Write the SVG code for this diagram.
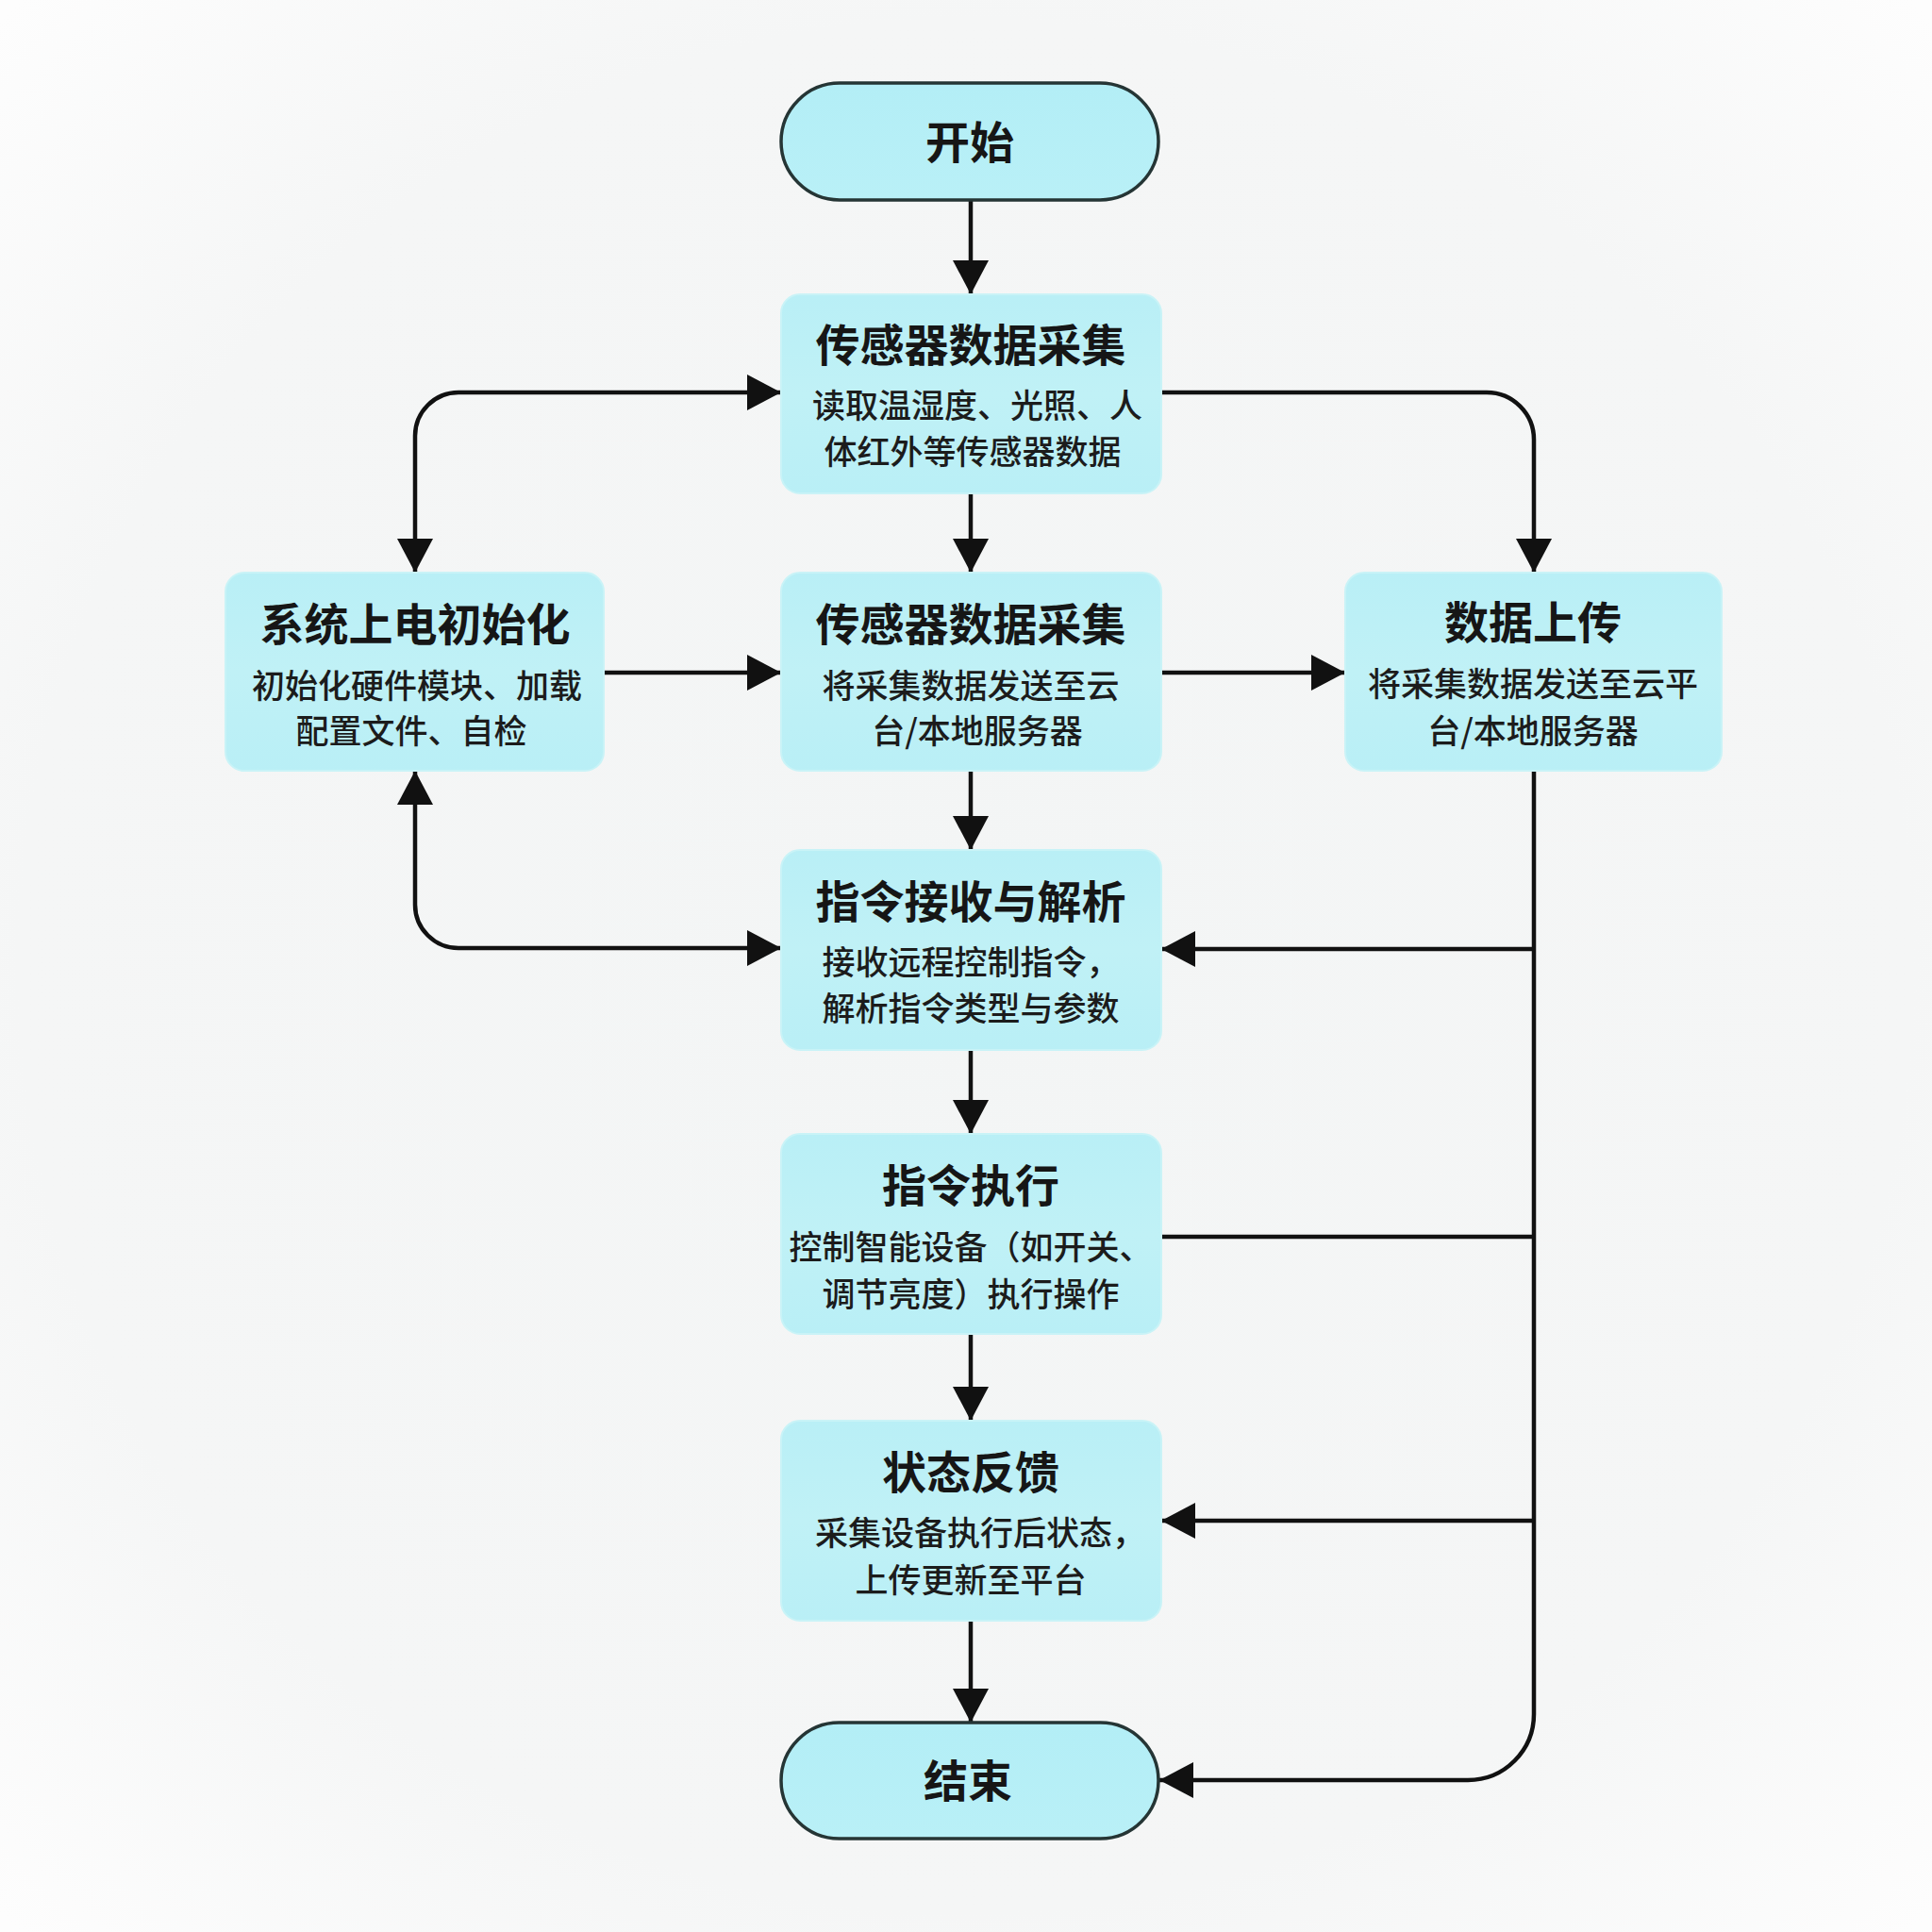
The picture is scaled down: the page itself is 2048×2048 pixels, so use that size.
<svg xmlns="http://www.w3.org/2000/svg" width="2048" height="2048" viewBox="0 0 2048 2048">
<defs>
<radialGradient id="bg" cx="50%" cy="50%" r="70%">
<stop offset="0" stop-color="#f3f5f5"/>
<stop offset="0.7" stop-color="#f5f6f6"/>
<stop offset="1" stop-color="#fdfdfd"/>
</radialGradient>
<linearGradient id="boxfill" x1="0" y1="0" x2="0" y2="1">
<stop offset="0" stop-color="#b9eff6"/>
<stop offset="0.5" stop-color="#c0f1f6"/>
<stop offset="1" stop-color="#b9eff6"/>
</linearGradient>
<linearGradient id="pillfill" x1="0" y1="0" x2="0" y2="1">
<stop offset="0" stop-color="#b3eef6"/>
<stop offset="1" stop-color="#b9f0f7"/>
</linearGradient>
<marker id="arr" markerUnits="userSpaceOnUse" markerWidth="38" markerHeight="40" refX="36" refY="19" orient="auto-start-reverse" viewBox="0 0 38 40">
<path d="M0,0 L36,19 L0,38 z" fill="#111"/>
</marker>
<style>
.box{fill:url(#boxfill);stroke:#c9f3f7;stroke-width:2}
.pill{fill:url(#pillfill);stroke:#253535;stroke-width:3.5}
.title{font-family:"Noto Sans CJK SC","Noto Sans",sans-serif;font-weight:700;font-size:47px;fill:#161616;text-anchor:middle}
.sub{font-family:"Noto Sans CJK SC","Noto Sans",sans-serif;font-weight:500;font-size:35px;fill:#1c1c1c;text-anchor:middle}
.line{fill:none;stroke:#111;stroke-width:4.5}
.a{marker-end:url(#arr)}
.ab{marker-start:url(#arr);marker-end:url(#arr)}
</style>
</defs>
<rect width="2048" height="2048" fill="url(#bg)"/>

<g id="connectors">
<path class="line a" d="M1029,212 V312"/>
<path class="line a" d="M1029,523 V607"/>
<path class="line a" d="M1029,817 V901"/>
<path class="line a" d="M1029,1113 V1202"/>
<path class="line a" d="M1029,1414 V1506"/>
<path class="line a" d="M1029,1718 V1826"/>
<path class="line ab" d="M440,607 V462 A46,46 0 0 1 486,416 H828"/>
<path class="line ab" d="M440,817 V959 A46,46 0 0 0 486,1005 H828"/>
<path class="line a" d="M640,713 H828"/>
<path class="line a" d="M1231,713 H1426"/>
<path class="line a" d="M1231,416 H1576 A50,50 0 0 1 1626,466 V607"/>
<path class="line a" d="M1626,816 V1817 A70,70 0 0 1 1556,1887 H1229"/>
<path class="line a" d="M1626,1006 H1231"/>
<path class="line" d="M1626,1311 H1231"/>
<path class="line a" d="M1626,1612 H1231"/>
</g>

<g id="start">
<rect class="pill" x="828" y="88" width="400" height="124" rx="62"/>
<text class="title" x="1028" y="168">开始</text>
</g>

<g id="collect1">
<rect class="box" x="828" y="312" width="403" height="211" rx="20"/>
<text class="title" x="1029" y="383">传感器数据采集</text>
<text class="sub" x="1036" y="443">读取温湿度、光照、人</text>
<text class="sub" x="1031" y="492">体红外等传感器数据</text>
</g>

<g id="init">
<rect class="box" x="239" y="607" width="401" height="210" rx="20"/>
<text class="title" x="440" y="679">系统上电初始化</text>
<text class="sub" x="442" y="740">初始化硬件模块、加载</text>
<text class="sub" x="436" y="788">配置文件、自检</text>
</g>

<g id="collect2">
<rect class="box" x="828" y="607" width="403" height="210" rx="20"/>
<text class="title" x="1029" y="679">传感器数据采集</text>
<text class="sub" x="1029" y="740">将采集数据发送至云</text>
<text class="sub" x="1036" y="788">台/本地服务器</text>
</g>

<g id="upload">
<rect class="box" x="1426" y="607" width="399" height="210" rx="20"/>
<text class="title" x="1625" y="677">数据上传</text>
<text class="sub" x="1625" y="738">将采集数据发送至云平</text>
<text class="sub" x="1625" y="788">台/本地服务器</text>
</g>

<g id="parse">
<rect class="box" x="828" y="901" width="403" height="212" rx="20"/>
<text class="title" x="1029" y="973">指令接收与解析</text>
<text class="sub" x="1029" y="1033">接收远程控制指令，</text>
<text class="sub" x="1029" y="1082">解析指令类型与参数</text>
</g>

<g id="execute">
<rect class="box" x="828" y="1202" width="403" height="212" rx="20"/>
<text class="title" x="1029" y="1274">指令执行</text>
<text class="sub" x="1029" y="1335">控制智能设备（如开关、</text>
<text class="sub" x="1029" y="1385">调节亮度）执行操作</text>
</g>

<g id="feedback">
<rect class="box" x="828" y="1506" width="403" height="212" rx="20"/>
<text class="title" x="1029" y="1578">状态反馈</text>
<text class="sub" x="1039" y="1638">采集设备执行后状态，</text>
<text class="sub" x="1029" y="1688">上传更新至平台</text>
</g>

<g id="end">
<rect class="pill" x="828" y="1826" width="400" height="123" rx="61.5"/>
<text class="title" x="1026" y="1905">结束</text>
</g>
</svg>
